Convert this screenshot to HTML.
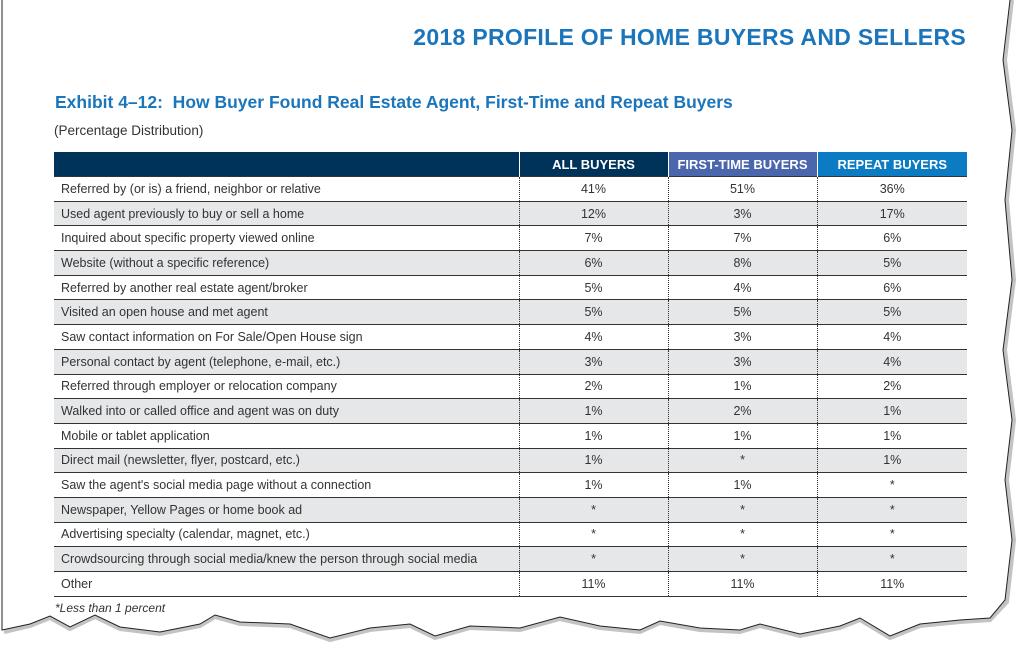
<!DOCTYPE html>
<html><head><meta charset="utf-8"><style>
body{margin:0;width:1035px;height:657px;background:#fff;position:relative;overflow:hidden;font-family:"Liberation Sans",sans-serif;}
svg.bg{position:absolute;left:0;top:0}
.t1{position:absolute;right:69px;top:24px;font-size:23px;font-weight:bold;color:#1b75bb;letter-spacing:0.3px}
.t2{position:absolute;left:55px;top:92px;font-size:17.5px;font-weight:bold;color:#1b75bb}
.t3{position:absolute;left:54px;top:123px;font-size:13.5px;color:#333}
table{position:absolute;left:54px;top:152px;width:913px;border-collapse:collapse;font-size:12.5px;color:#333}
th{height:24px;color:#fff;font-weight:bold;font-size:13px;padding:0;text-align:center}
td{height:23.7px;padding:0;border-top:1px solid #333;text-align:center}
td:first-child{text-align:left;padding-left:7px}
td+td{border-left:1px dotted #333}
tbody tr:nth-child(even) td{background:#e6e7e8}
tr:last-child td{border-bottom:1.5px solid #333}
.fn{position:absolute;left:55px;top:601px;font-size:12px;font-style:italic;color:#333}
</style></head><body>
<svg class="bg" width="1035" height="657">
<polygon points="6,630 30,624 50,616 70,627 95,615 120,627 160,632 200,624 215,615 240,622 290,624 330,638 370,628 410,624 435,636 470,626 520,628 560,617 600,626 640,630 660,621 700,628 740,630 760,624 800,634 840,626 860,618 890,636 920,624 960,620 990,618 1005,600 1012,540 1005,480 1012,420 1003,350 1012,280 1005,200 1012,130 1003,60 1012,5 1015,0 1035,0 1035,657 0,657 0,632" fill="#fff"/>
<polyline points="4,632 30,626 50,618 70,629 95,617 120,629 160,634 200,626 215,617 240,624 290,626 330,640 370,630 410,626 435,638 470,628 520,630 560,619 600,628 640,632 660,623 700,630 740,632 760,626 800,636 840,628 860,620 890,638 920,626 960,622 990,620 1007,602 1014,540 1007,480 1014,420 1005,350 1014,280 1007,200 1014,130 1005,60 1012,0" fill="none" stroke="#888" stroke-width="4" opacity="0.5"/>
<polyline points="2,0 2,630 30,624 50,616 70,627 95,615 120,627 160,632 200,624 215,615 240,622 290,624 330,638 370,628 410,624 435,636 470,626 520,628 560,617 600,626 640,630 660,621 700,628 740,630 760,624 800,634 840,626 860,618 890,636 920,624 960,620 990,618 1005,600 1012,540 1005,480 1012,420 1003,350 1012,280 1005,200 1012,130 1003,60 1010,0" fill="none" stroke="#222" stroke-width="1"/>
</svg>
<div class="t1">2018 PROFILE OF HOME BUYERS AND SELLERS</div>
<div class="t2">Exhibit 4–12:&nbsp; How Buyer Found Real Estate Agent, First-Time and Repeat Buyers</div>
<div class="t3">(Percentage Distribution)</div>
<table>
<colgroup><col style="width:465px"><col style="width:149px"><col style="width:149px"><col style="width:150px"></colgroup>
<thead><tr><th style="background:#003359"></th><th style="background:#003359;border-left:1px solid #fff">ALL BUYERS</th><th style="background:#4a66ac;border-left:1px solid #fff">FIRST-TIME BUYERS</th><th style="background:#0b7cc4;border-left:1px solid #fff">REPEAT BUYERS</th></tr></thead>
<tbody>
<tr><td>Referred by (or is) a friend, neighbor or relative</td><td>41%</td><td>51%</td><td>36%</td></tr>
<tr><td>Used agent previously to buy or sell a home</td><td>12%</td><td>3%</td><td>17%</td></tr>
<tr><td>Inquired about specific property viewed online</td><td>7%</td><td>7%</td><td>6%</td></tr>
<tr><td>Website (without a specific reference)</td><td>6%</td><td>8%</td><td>5%</td></tr>
<tr><td>Referred by another real estate agent/broker</td><td>5%</td><td>4%</td><td>6%</td></tr>
<tr><td>Visited an open house and met agent</td><td>5%</td><td>5%</td><td>5%</td></tr>
<tr><td>Saw contact information on For Sale/Open House sign</td><td>4%</td><td>3%</td><td>4%</td></tr>
<tr><td>Personal contact by agent (telephone, e-mail, etc.)</td><td>3%</td><td>3%</td><td>4%</td></tr>
<tr><td>Referred through employer or relocation company</td><td>2%</td><td>1%</td><td>2%</td></tr>
<tr><td>Walked into or called office and agent was on duty</td><td>1%</td><td>2%</td><td>1%</td></tr>
<tr><td>Mobile or tablet application</td><td>1%</td><td>1%</td><td>1%</td></tr>
<tr><td>Direct mail (newsletter, flyer, postcard, etc.)</td><td>1%</td><td>*</td><td>1%</td></tr>
<tr><td>Saw the agent's social media page without a connection</td><td>1%</td><td>1%</td><td>*</td></tr>
<tr><td>Newspaper, Yellow Pages or home book ad</td><td>*</td><td>*</td><td>*</td></tr>
<tr><td>Advertising specialty (calendar, magnet, etc.)</td><td>*</td><td>*</td><td>*</td></tr>
<tr><td>Crowdsourcing through social media/knew the person through social media</td><td>*</td><td>*</td><td>*</td></tr>
<tr><td>Other</td><td>11%</td><td>11%</td><td>11%</td></tr>
</tbody></table>
<div class="fn">*Less than 1 percent</div>
</body></html>
